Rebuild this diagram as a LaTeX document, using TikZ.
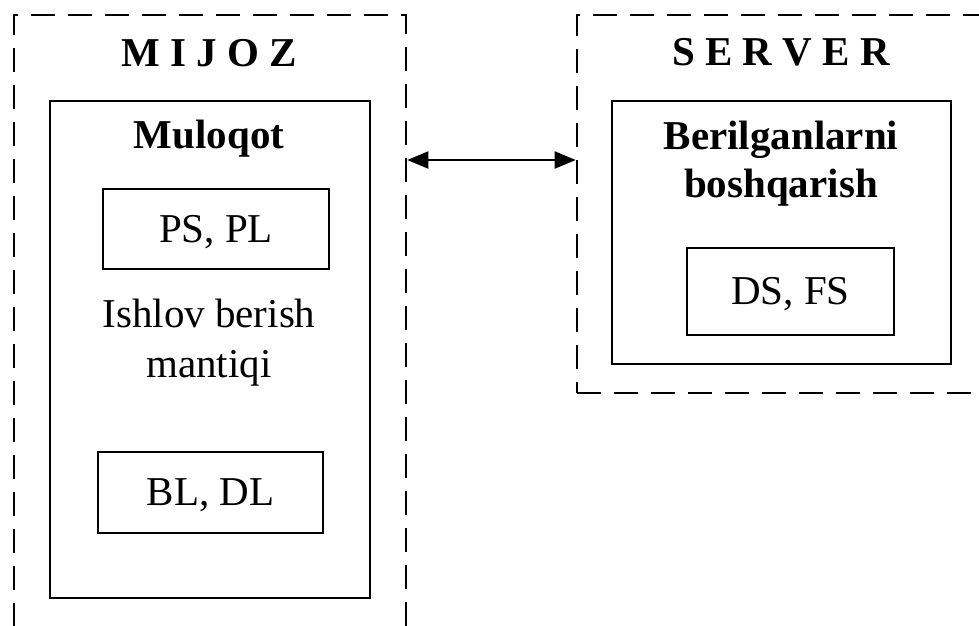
\documentclass[tikz,border=0pt]{standalone}
\usepackage{fontspec}
\setmainfont{Liberation Serif}
\usetikzlibrary{arrows.meta}

\tikzset{
    zone/.style={draw, line width=2.6pt, dash pattern=on 24pt off 13pt},
    panel/.style={draw, line width=2pt},
    unit/.style={draw, line width=2pt, text height=30pt, text depth=4pt},
    title/.style={anchor=base, font=\fontsize{41}{48}\selectfont\bfseries},
    plain/.style={anchor=base, align=center}
}

\begin{document}
\begin{tikzpicture}[x=1pt, y=-1pt, >={Triangle[length=21pt, width=17pt]},
    every node/.style={inner sep=0pt, font=\fontsize{41}{50}\selectfont}]
    \useasboundingbox (0,0) rectangle (979,625);
    % mijoz
    \node[zone, minimum width=392pt, minimum height=700pt] (mijoz) at (210,365) {};
    \node[title] (mijozt) at (209,66) {M I J O Z};
    \node[panel, minimum width=320pt, minimum height=497pt] (muloqot) at (210,349.5) {};
    \node[title] (muloqott) at (209,148) {Muloqot};
    \node[unit, minimum width=226pt, minimum height=80pt] (pspl) at (216,229) {PS, PL};
    \node[plain] (mantiq) at (209,377) {Ishlov berish\\mantiqi};
    \node[unit, minimum width=225pt, minimum height=81pt] (bldl) at (210.5,492.5) {BL, DL};
    % server
    \node[zone, minimum width=423pt, minimum height=378pt] (server) at (788.5,204) {};
    \node[title] (servert) at (781,65) {S E R V E R};
    \node[panel, minimum width=339pt, minimum height=263pt] (boshqar) at (781.5,232.5) {};
    \node[title, align=center] (boshqart) at (781,197) {Berilganlarni\\boshqarish};
    \node[unit, minimum width=207pt, minimum height=87pt] (dsfs) at (790.5,291.5) {DS, FS};
    % aloqa
    \coordinate (link) at (0,160);
    \draw[<->, line width=2pt] (mijoz.east |- link) -- (server.west |- link);
\end{tikzpicture}
\end{document}
